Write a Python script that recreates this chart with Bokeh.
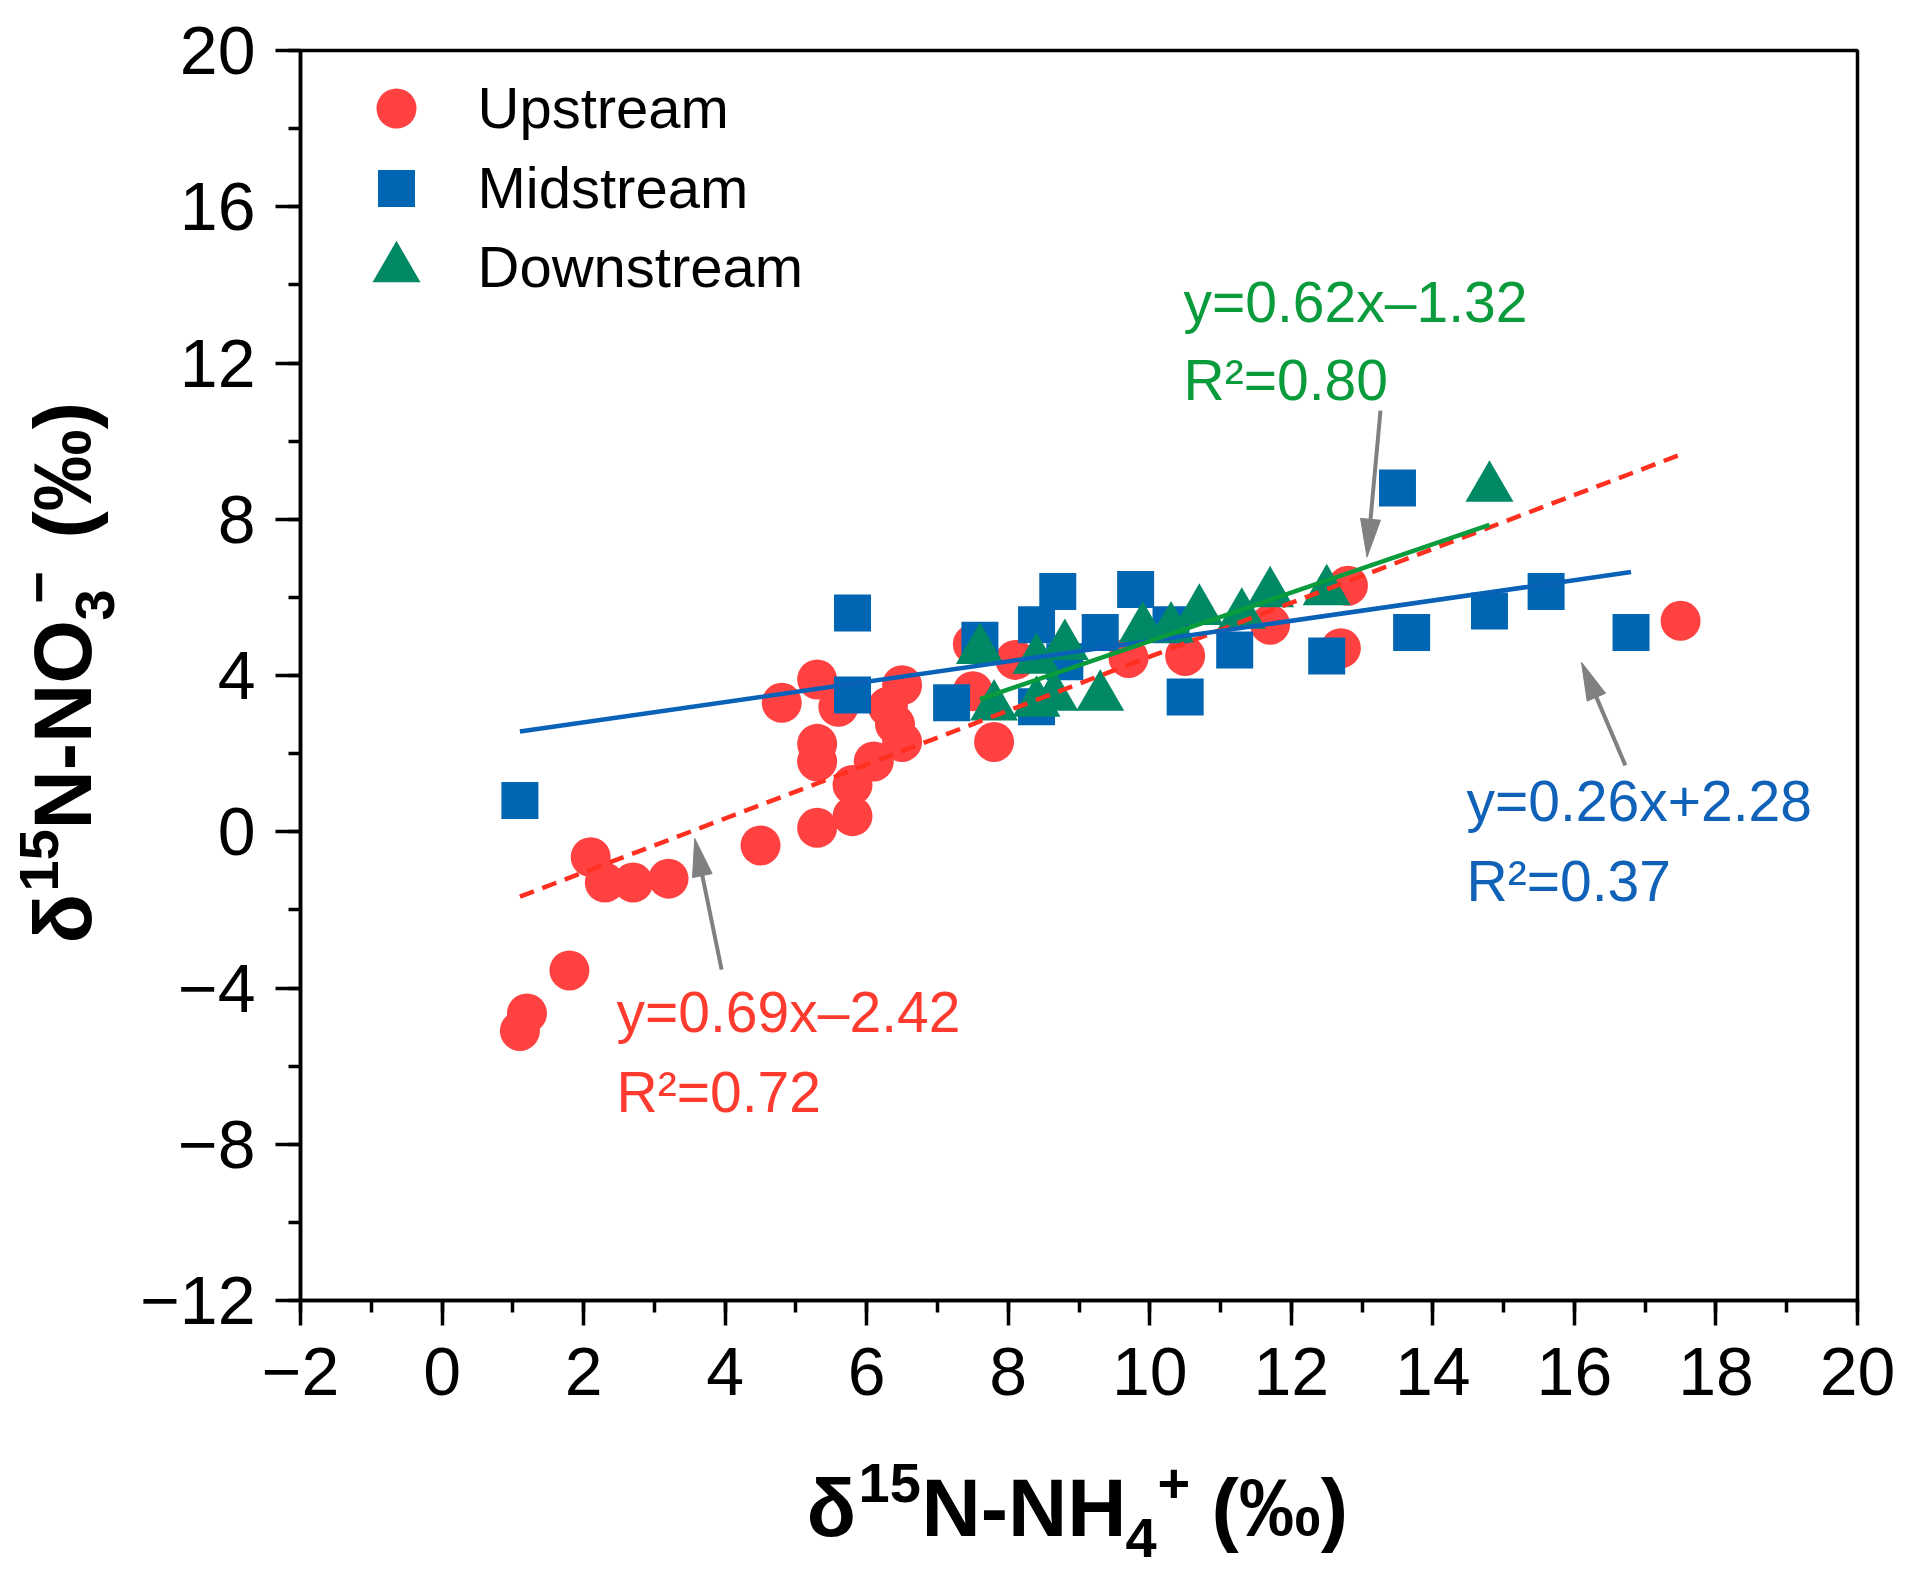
import math
from bokeh.plotting import figure
from bokeh.models import FixedTicker, Label, Range1d
from bokeh.layouts import row, column
from bokeh.embed import file_html
from bokeh.resources import INLINE

# ---------------- data ----------------
up_x = [1.1, 1.2, 1.8, 2.1, 2.3, 2.7, 3.2, 4.5, 4.8, 5.3, 5.3, 5.3, 5.3, 5.6, 5.8, 5.8,
        6.1, 6.3, 6.4, 6.5, 6.5, 7.5, 7.5, 7.8, 8.1, 9.7, 10.5, 11.7, 12.7, 12.8, 17.5]
up_y = [-5.1, -4.65, -3.55, -0.65, -1.3, -1.3, -1.2, -0.35, 3.3, 3.9, 2.25, 1.8, 0.1, 3.2, 1.2, 0.4,
        1.8, 3.2, 2.75, 2.3, 3.75, 4.8, 3.6, 2.3, 4.4, 4.45, 4.5, 5.3, 4.7, 6.3, 5.4]

mid_x = [1.1, 5.8, 5.8, 7.2, 7.6, 8.4, 8.4, 8.7, 8.8, 9.3, 9.8, 10.3, 10.5, 11.2, 12.5,
         13.5, 13.7, 14.8, 15.6, 16.8]
mid_y = [0.8, 5.6, 3.5, 3.3, 4.9, 5.3, 3.2, 6.15, 4.35, 5.1, 6.2, 5.3, 3.45, 4.65, 4.5,
         8.8, 5.1, 5.65, 6.15, 5.1]

down_x = [7.6, 7.8, 8.4, 8.4, 8.65, 8.8, 9.3, 9.9, 10.3, 10.7, 11.3, 11.7, 12.5, 14.8]
down_y = [4.65, 3.2, 4.4, 3.3, 3.45, 4.75, 3.45, 5.2, 5.2, 5.65, 5.55, 6.1, 6.15, 8.8]

series_names = ["Upstream", "Midstream", "Downstream"]
fit_slopes = [0.69, 0.26, 0.62]
fit_intercepts = [-2.42, 2.28, -1.32]
eq_texts = ["y=0.69x\u20132.42", "y=0.26x+2.28", "y=0.62x\u20131.32"]
r2_texts = ["R\u00b2=0.72", "R\u00b2=0.37", "R\u00b2=0.80"]

x_major = list(range(-2, 21, 2))
x_minor = list(range(-2, 21, 1))
y_major = list(range(-12, 21, 4))
y_minor = list(range(-12, 21, 2))

# ---------------- layout (page pixels) ----------------
YW = 136                  # width of the y-title strip
FL, FT = 300, 50          # frame left/top on the page
FW, FH = 1557, 1250
RB = 42                   # right border
BB = 148                  # bottom border of main plot
MAIN_H = FT + FH + BB
TOTAL_H = 1570
XH = TOTAL_H - MAIN_H
SX = FW / 22.0
SY = FH / 32.0
BASE_FIX = 0.36           # baseline correction (fraction of font size)

def to_data(xi, yi):
    return (-2 + (xi - FL) / SX, 20 - (yi - FT) / SY)

def to_px(xd, yd):
    return (FL + (xd + 2) * SX, FT + (20 - yd) * SY)

p = figure(frame_width=FW, frame_height=FH,
           x_range=Range1d(-2, 20), y_range=Range1d(-12, 20),
           output_backend="svg", toolbar_location=None,
           min_border_left=FL - YW, min_border_top=FT,
           min_border_right=RB, min_border_bottom=BB)
p.background_fill_color = "white"
p.border_fill_color = "white"
p.xgrid.visible = False
p.ygrid.visible = False
p.outline_line_color = "black"
p.outline_line_width = 3.5

for ax, maj, mnr, standoff in ((p.xaxis[0], x_major, x_minor, 22), (p.yaxis[0], y_major, y_minor, 20)):
    ax.ticker = FixedTicker(ticks=maj, minor_ticks=mnr)
    ax.major_label_overrides = {t: str(t).replace("-", "\u2212") for t in maj}
    ax.axis_line_width = 3.5
    ax.major_tick_line_width = 3.5
    ax.minor_tick_line_width = 3.5
    ax.major_tick_out = 25
    ax.major_tick_in = 0
    ax.minor_tick_out = 12
    ax.minor_tick_in = 0
    ax.major_label_standoff = standoff
    ax.major_label_text_font = "Liberation Sans"
    ax.major_label_text_font_size = "68px"
    ax.major_label_text_color = "black"

RED, BLUE, GREEN = "#FF4141", "#0066B3", "#008964"
marker_styles = [("circle", 40, RED), ("square", 37, BLUE), ("triangle", 48, GREEN)]
for xs, ys, (mk, sz, col) in zip((up_x, mid_x, down_x), (up_y, mid_y, down_y), marker_styles):
    p.scatter(xs, ys, marker=mk, size=sz, fill_color=col, line_color=None)

# fitted lines
line_styles = [("#FF3020", "15 9"), ("#0A62B8", "solid"), ("#0A9B3C", "solid")]
for xs, m, b, (col, dash) in zip((up_x, mid_x, down_x), fit_slopes, fit_intercepts, line_styles):
    x0, x1 = min(xs), max(xs)
    p.line([x0, x1], [m * x0 + b, m * x1 + b], line_color=col, line_width=4.5, line_dash=dash)

# arrows (tail, tip) in data units
arrows = [((3.95, -3.53), (3.57, -0.17)),
          ((13.26, 10.78), (13.07, 7.03)),
          ((16.72, 1.70), (16.10, 4.34))]
GRAY = "#808080"
for (tx, ty), (hx, hy) in arrows:
    ax_, ay_ = to_px(tx, ty)
    bx_, by_ = to_px(hx, hy)
    L = math.hypot(bx_ - ax_, by_ - ay_)
    ux, uy = (bx_ - ax_) / L, (by_ - ay_) / L
    cx, cy = bx_ - ux * 38, by_ - uy * 38
    nx, ny = -uy, ux
    pts = [(bx_, by_), (cx + nx * 10, cy + ny * 10), (cx - nx * 10, cy - ny * 10)]
    dpts = [to_data(*q) for q in pts]
    p.patch([q[0] for q in dpts], [q[1] for q in dpts], fill_color=GRAY, line_color=GRAY, line_width=1)
    s0 = to_data(ax_, ay_)
    s1 = to_data(cx + ux * 2, cy + uy * 2)
    p.line([s0[0], s1[0]], [s0[1], s1[1]], line_color=GRAY, line_width=4)

def label(fig, xd, yd, txt, size, color="black", bold=False, angle=0.0):
    fig.add_layout(Label(x=xd, y=yd, text=txt, text_font="Liberation Sans",
                         text_font_size=f"{size}px", text_color=color,
                         text_font_style="bold" if bold else "normal",
                         text_baseline="alphabetic", text_align="left", angle=angle))

def main_text(txt, xi, yi, size, color="black"):
    xd, yd = to_data(xi, yi - BASE_FIX * size)
    label(p, xd, yd, txt, size, color)

# equation annotations (left x, baseline y on the page)
eq_pos = [(616, 1032, 1112, "#FF3B30"), (1466, 821, 901, "#0F62B8"), (1183, 322, 400, "#0A9B3C")]
for eq, r2, (xi, y1, y2, col) in zip(eq_texts, r2_texts, eq_pos):
    main_text(eq, xi, y1, 57, col)
    main_text(r2, xi, y2, 57, col)

# legend (markers + names)
leg_rows = [(108, 128), (188, 208), (268, 287)]
for name, (mk, sz, col), (my, ty) in zip(series_names, marker_styles, leg_rows):
    lx, ly = to_data(396, my)
    p.scatter([lx], [ly], marker=mk, size=sz, fill_color=col, line_color=None)
    main_text(name, 477, ty, 58)

# ---------------- axis titles in their own strips ----------------
def blank(fig):
    fig.outline_line_color = None
    fig.xgrid.visible = False
    fig.ygrid.visible = False
    fig.background_fill_color = "white"
    fig.border_fill_color = "white"
    return fig

# x strip: its frame is aligned with the main frame, so x data == page x
xfig = blank(figure(frame_width=FW, frame_height=XH,
                    x_range=Range1d(FL, FL + FW), y_range=Range1d(0, XH),
                    output_backend="svg", toolbar_location=None, x_axis_type=None, y_axis_type=None,
                    min_border_left=FL - YW, min_border_right=RB, min_border_top=0, min_border_bottom=0))
# y strip: frame == canvas, data == page pixels (y measured from the bottom)
yfig = blank(figure(width=YW, height=TOTAL_H, x_range=Range1d(0, YW), y_range=Range1d(0, TOTAL_H),
                    output_backend="svg", toolbar_location=None, x_axis_type=None, y_axis_type=None,
                    min_border=0, min_border_left=0, min_border_right=0, min_border_top=0, min_border_bottom=0))

def xt(txt, xi, yi, size):
    label(xfig, xi, TOTAL_H - (yi - BASE_FIX * size), txt, size, bold=True)

def yt(txt, xi, yi, size):
    label(yfig, xi - BASE_FIX * size, TOTAL_H - yi, txt, size, bold=True, angle=math.pi / 2)

xt("\u03b4", 806, 1537, 82)
xt("15", 858, 1503, 56)
xt("N-NH", 921, 1537, 82)
xt("4", 1125, 1558, 56)
xt("+", 1157, 1503, 56)
xt("(\u2030)", 1211, 1537, 82)

yt("\u03b4", 92, 943, 82)
yt("15", 59, 891, 56)
yt("N-NO", 92, 829, 82)
yt("3", 115, 620, 56)
yt("\u2212", 59, 603, 56)
yt("(\u2030)", 92, 538, 82)

layout = row(yfig, column(p, xfig, spacing=0), spacing=0)
open("out.html", "w").write(file_html(layout, INLINE))
